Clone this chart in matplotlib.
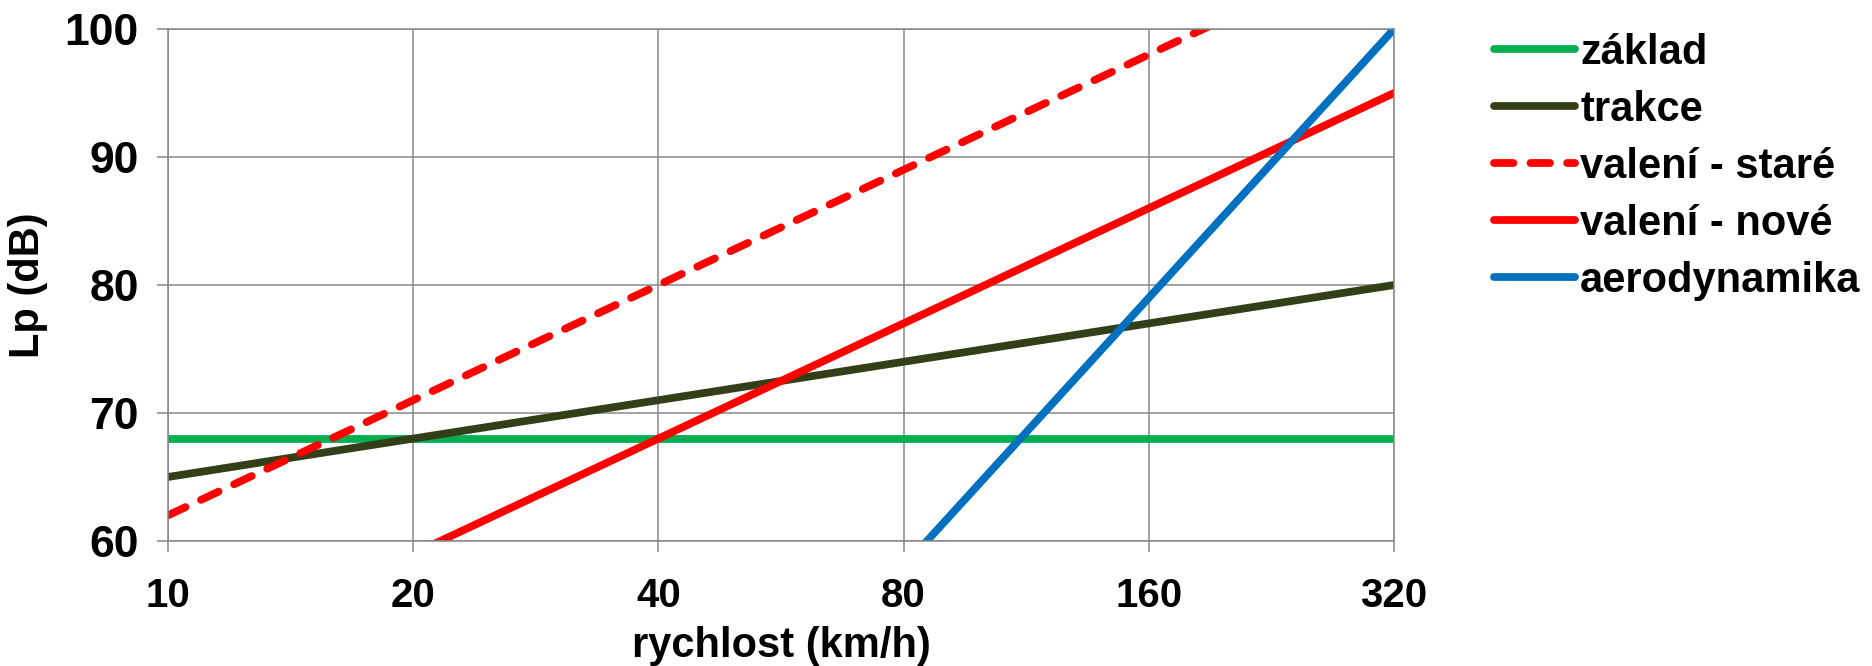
import matplotlib
matplotlib.use("Agg")
import matplotlib.pyplot as plt
from matplotlib.ticker import NullLocator

plt.rcParams['font.family'] = ['Liberation Sans', 'DejaVu Sans']
plt.rcParams['font.weight'] = 'bold'

# speeds (km/h) and noise levels Lp (dB) per source
speeds = [10, 20, 40, 80, 160, 320]
speed_labels = ["10", "20", "40", "80", "160", "320"]
zaklad = [68, 68, 68, 68, 68, 68]
trakce = [65, 68, 71, 74, 77, 80]
valeni_stare = [62, 71, 80, 89, 98, 107]
valeni_nove = [50, 59, 68, 77, 86, 95]
aero_speeds = [80, 160, 320]
aerodynamika = [58, 79, 100]
y_ticks = [60, 70, 80, 90, 100]

grid_col = "#878787"
lw = 5.6

fig = plt.figure(figsize=(18.72, 6.66), dpi=100)
ax = fig.add_axes([0.0897, 0.1877, 0.7447 - 0.0897, 0.9565 - 0.1877])

ax.plot(speeds, zaklad, color="#00B050", lw=lw, solid_capstyle="round", label="základ")
ax.plot(speeds, trakce, color="#333F18", lw=lw, solid_capstyle="round", label="trakce")
ax.plot(speeds, valeni_stare, color="#FF0000", lw=lw, dashes=(2.5, 2.2),
        dash_capstyle="round", label="valení - staré")
ax.plot(speeds, valeni_nove, color="#FF0000", lw=lw, solid_capstyle="round", label="valení - nové")
ax.plot(aero_speeds, aerodynamika, color="#0070C0", lw=lw, solid_capstyle="round", label="aerodynamika")

ax.set_xscale("log", base=2)
ax.set_xlim(10, 320)
ax.set_ylim(60, 100)
ax.set_xticks(speeds)
ax.set_xticklabels(speed_labels)
ax.xaxis.set_minor_locator(NullLocator())
ax.set_yticks(y_ticks)

ax.grid(True, color=grid_col, lw=1.1)
ax.set_axisbelow(True)
for s in ax.spines.values():
    s.set_color(grid_col)
    s.set_linewidth(1.1)

ax.tick_params(axis="x", length=8, width=1.1, color=grid_col, pad=18, labelsize=29)
ax.tick_params(axis="y", length=8, width=1.1, color=grid_col, pad=13, labelsize=32)
for t in ax.get_xticklabels() + ax.get_yticklabels():
    t.set_fontweight("bold")

ax.set_xlabel("rychlost (km/h)", fontsize=30, fontweight="bold", labelpad=8)
ax.set_ylabel("Lp (dB)", fontsize=30, fontweight="bold", labelpad=12)

leg = fig.legend(loc="upper left", bbox_to_anchor=(0.798, 0.951), frameon=False,
                 fontsize=30, handlelength=1.95, handletextpad=0.12, labelspacing=0.41,
                 borderaxespad=0, borderpad=0)
for t in leg.get_texts():
    t.set_fontweight("bold")

fig.savefig("out.png", dpi=100)
